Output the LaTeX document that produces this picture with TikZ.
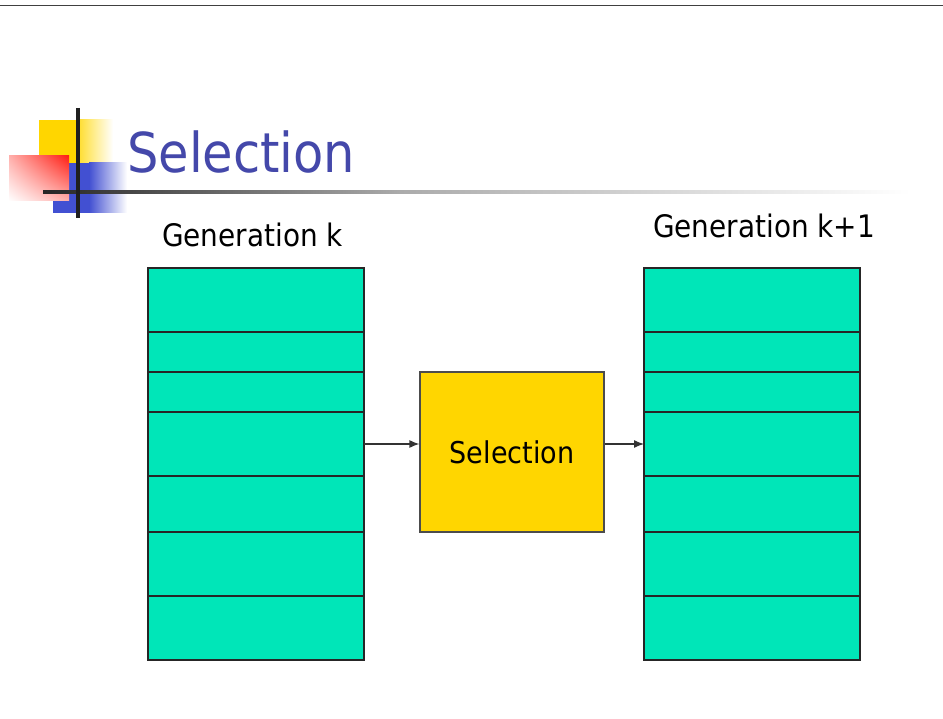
\documentclass[tikz,border=0pt]{standalone}
\usepackage{fontspec}
\setmainfont{DejaVu Sans Condensed}
\usepackage{tikz}
\usetikzlibrary{arrows.meta, positioning, shadings}
\definecolor{cellgreen}{RGB}{0,230,184}
\definecolor{selyellow}{RGB}{255,214,0}
\definecolor{titleblue}{RGB}{68,72,170}
\definecolor{logoblue}{RGB}{66,80,210}
\definecolor{logored}{RGB}{255,30,20}

\begin{document}
\begin{tikzpicture}[x=1pt, y=-1pt,
  cell/.style={draw=black!85, line width=1.2pt, fill=cellgreen, minimum width=216pt, inner sep=0pt, outer sep=0pt},
  label/.style={font=\fontsize{31}{36}\selectfont, inner sep=0pt, anchor=base west},
  arrow/.style={-{Latex[length=10pt, width=8pt]}, line width=1.2pt, draw=black!80}]
  \useasboundingbox (0,0) rectangle (943,719);
  % header rule
  \draw[line width=1.5pt, black!75] (0,5.5) -- (943,5.5);
  % logo
  \fill[selyellow] (39,120) rectangle (80,163);
  \shade[left color=selyellow!80, right color=white] (79,120) rectangle (113,163);
  \fill[logoblue] (53,163) rectangle (90,213);
  \shade[left color=logoblue, right color=white] (89,163) rectangle (127,213);
  \shade[upper right=logored, lower left=white, upper left=logored!35, lower right=logored!35] (9,156) rectangle (69,201);
  \shade[left color=black!85, right color=black!33] (43,190.5) rectangle (400,194);
  \shade[left color=black!33, right color=white] (399.5,190.5) rectangle (910,194);
  \draw[line width=3.5pt, black!88] (78,108) -- (78,218);
  \node (title) [anchor=base west, inner sep=0pt, text=titleblue, font=\fontsize{55}{60}\selectfont] at (127,172.7) {Selection};
  % columns
  \node (genk) [label] at (162,247) {Generation k};
  \node (genk1) [label] at (653,238) {Generation k+1};
  \foreach \top/\bot [count=\i] in {268/332, 332/372, 372/412, 412/476, 476/532, 532/596, 596/660} {
    \node (old\i) [cell, minimum height={(\bot-\top)*1pt}] at (256,{(\top+\bot)/2}) {};
    \node (new\i) [cell, minimum height={(\bot-\top)*1pt}] at (752,{(\top+\bot)/2}) {};
  }
  \node (sel) [draw=black!70, line width=1.2pt, fill=selyellow, minimum width=184pt, minimum height=160pt, font=\fontsize{30}{36}\selectfont] at (512,452) {Selection};
  \draw[arrow] (old4.east) -- (old4.east -| sel.west);
  \draw[arrow] (new4.west -| sel.east) -- (new4.west);
\end{tikzpicture}
\end{document}
